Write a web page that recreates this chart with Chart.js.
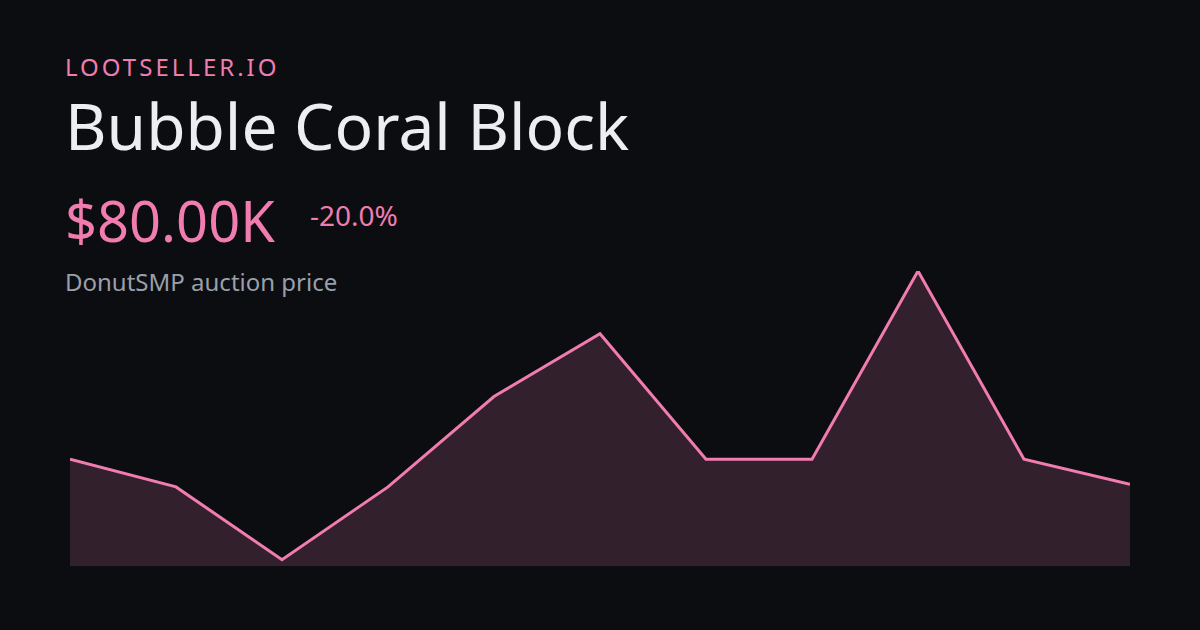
<!DOCTYPE html><html><head><meta charset="utf-8">
<script src="https://cdn.jsdelivr.net/npm/chart.js@4"></script>
<style>
body{margin:0;width:1200px;height:630px;background:#0c0d10;font-family:"Noto Sans",sans-serif;position:relative;overflow:hidden}
.t{position:absolute;left:65px;white-space:nowrap}
#brand{top:50px;font-size:24px;letter-spacing:3px;color:#f07cb0}
#title{top:82px;font-size:64px;color:#eceef2}
#price{top:182px;font-size:56px;color:#f07cb0}
#chg{position:absolute;left:310px;top:196px;font-size:28px;color:#f07cb0}
#sub{top:265px;font-size:24px;color:#9aa0ab}
#wrap{position:absolute;left:70px;top:271px;width:1060px;height:295px}
</style></head><body>
<div class="t" id="brand">LOOTSELLER.IO</div>
<div class="t" id="title">Bubble Coral Block</div>
<div class="t" id="price">$80.00K</div>
<div id="chg">-20.0%</div>
<div class="t" id="sub">DonutSMP auction price</div>
<div id="wrap"><canvas id="c"></canvas></div>
<script>
const labels=["1","2","3","4","5","6","7","8","9","10","11"];
const prices=[100,78,20,78,150,200,100,100,250,100,80];
new Chart(document.getElementById('c'),{type:'line',
data:{labels:labels,datasets:[{data:prices,borderColor:'#f07cb0',borderWidth:3,backgroundColor:'#33202d',fill:'start',pointRadius:0,tension:0,clip:false}]},
options:{responsive:true,maintainAspectRatio:false,animation:false,layout:{padding:0},
plugins:{legend:{display:false},tooltip:{enabled:false}},
scales:{x:{display:false,offset:false},y:{display:false,min:15,max:250}}}});
</script></body></html>
